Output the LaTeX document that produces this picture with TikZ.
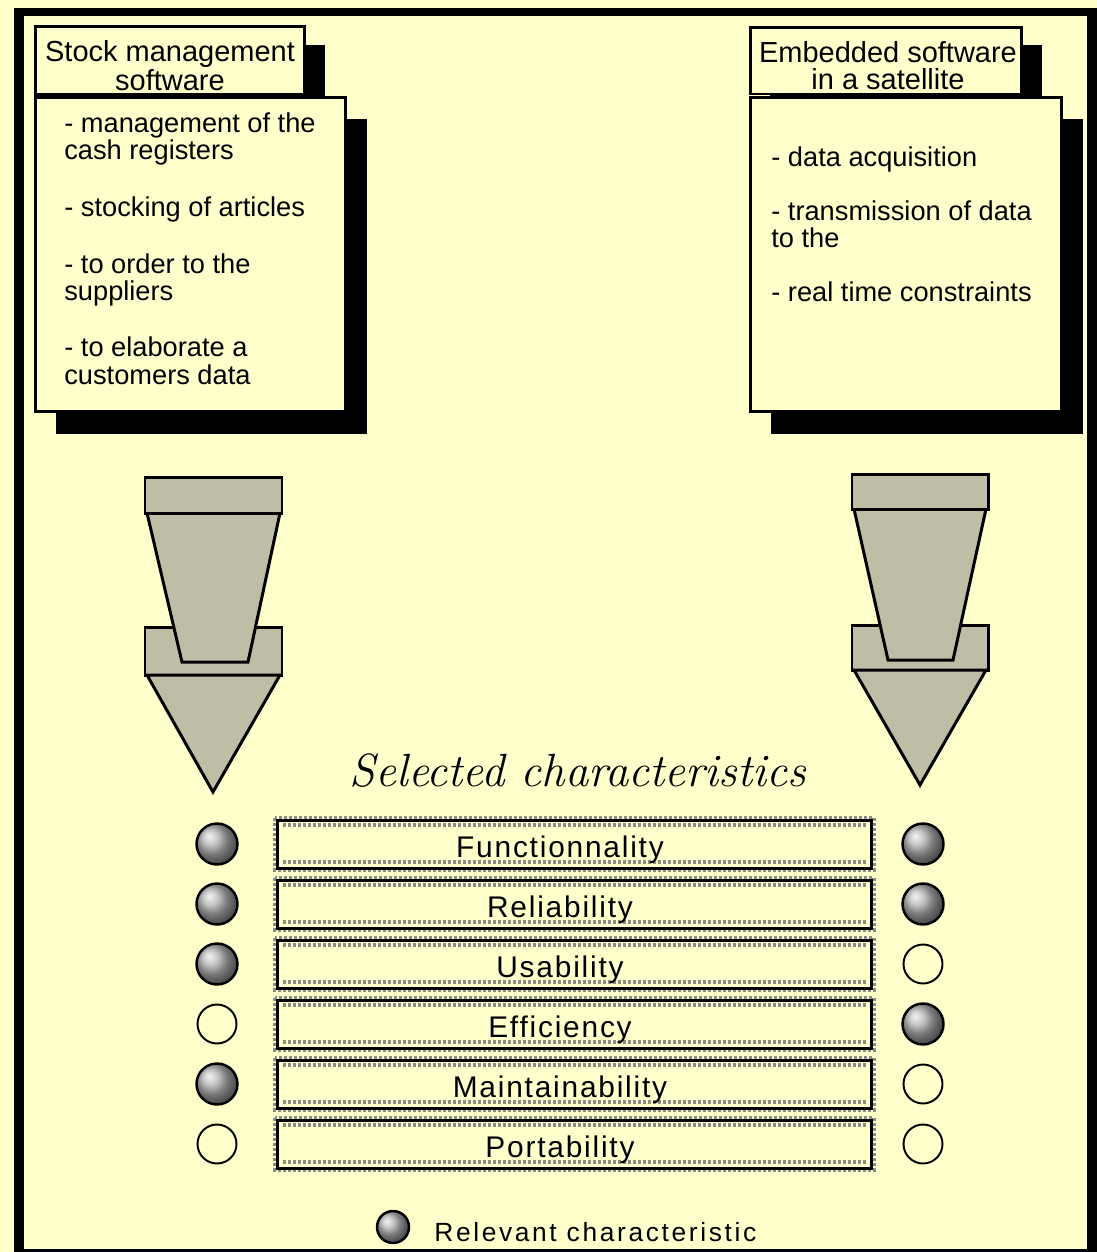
\documentclass[tikz,border=0pt]{standalone}
\usepackage{fontspec}
\newfontfamily\pixfont{Liberation Sans}
\newfontfamily\barfont[LetterSpace=6]{Liberation Sans}
\newfontfamily\keyfont[LetterSpace=10]{Liberation Sans}
\usetikzlibrary{shadows}
\definecolor{paper}{RGB}{255,255,204}
\definecolor{dither}{RGB}{190,190,166}
\definecolor{dotgray}{RGB}{140,140,135}
\tikzset{
  headbox/.style={draw, line width=1.7pt, fill=paper, minimum width=5.4cm, minimum height=1.36cm,
    drop shadow={shadow xshift=0.4cm, shadow yshift=-0.36cm, fill=black, opacity=1}},
  listbox/.style={draw, line width=1.7pt, fill=paper, minimum width=6.22cm, minimum height=6.3cm,
    drop shadow={shadow xshift=0.42cm, shadow yshift=-0.44cm, fill=black, opacity=1}},
  headtext/.style={align=center, inner sep=0pt, font=\pixfont\fontsize{16.5}{15.3}\selectfont},
  listtext/.style={align=left, anchor=north west, inner sep=0pt, font=\pixfont\fontsize{15.5}{15.4}\selectfont},
  block/.style={draw, line width=1.7pt, fill=dither, line join=miter},
  charbar/.style={draw, line width=1.7pt, minimum width=11.9cm, minimum height=0.96cm},
  bardots/.style={dotgray, line width=0.08cm, dash pattern=on 0.06cm off 0.04cm},
  barlabel/.style={inner sep=0pt, font=\barfont\fontsize{17}{17}\selectfont},
  relevant/.style={circle, draw, line width=1.4pt, shade, ball color=gray!60, minimum size=0.82cm},
  plain/.style={circle, draw, line width=1.1pt, minimum size=0.78cm}
}

\begin{document}
\begin{tikzpicture}[x=0.02cm, y=-0.02cm]
  \fill[paper] (0,0) rectangle (1097,1252);
  \fill[black] (14,8) rectangle (1097,1252);
  \fill[paper] (24,16) rectangle (1087,1249);
  \useasboundingbox (0,0) rectangle (1097,1252);

  \node[headbox] (stockhead) at (170,60.5) {};
  \node[headtext] (stockname) at (170,66) {Stock management\\software};
  \node[listbox] (stocklist) at (190.5,254.5) {};
  \node[listtext] (stockitems) at (64,112) {- management of the\\cash registers\\[17pt]
    - stocking of articles\\[17pt]
    - to order to the\\suppliers\\[17pt]
    - to elaborate a\\customers data};

  \node[headbox, minimum width=5.44cm, minimum height=1.34cm] (sathead) at (886,60.5) {};
  \node[headtext] (satname) at (888,66) {Embedded software\\in a satellite};
  \node[listbox, minimum width=6.24cm] (satlist) at (906,254.5) {};
  \node[listtext] (satitems) at (771,146) {- data acquisition\\[15.5pt]
    - transmission of data\\to the\\[15.5pt]
    - real time constraints};

  \draw[block] (145,627) rectangle (282,675);
  \draw[block] (147,513) -- (280,513) -- (248,662) -- (182,662) -- cycle;
  \draw[block] (147,675) -- (280,675) -- (213,792) -- cycle;
  \draw[block] (145,477) rectangle (282,513);

  \draw[block] (852,625) rectangle (988,670);
  \draw[block] (854,509) -- (986,509) -- (953,660) -- (888,660) -- cycle;
  \draw[block] (854,670) -- (986,670) -- (920,785) -- cycle;
  \draw[block] (852,474) rectangle (988,509);

  \node[anchor=base, inner sep=0pt, font=\itshape\fontsize{26.5}{26.5}\selectfont] (seltitle) at (578,786) {Selected characteristics};

  \foreach \name/\lft/\rgt [count=\i] in {Functionnality/relevant/relevant, Reliability/relevant/relevant,
      Usability/relevant/plain, Efficiency/plain/relevant, Maintainability/relevant/plain, Portability/plain/plain} {
    \pgfmathsetmacro{\yy}{784+60*\i}
    \draw[bardots] (275,\yy-26) rectangle (874,\yy+26);
    \draw[bardots] (283,\yy-19) -- (867,\yy-19);
    \draw[bardots] (283,\yy+18) -- (867,\yy+18);
    \node[charbar] (bar\i) at (574.5,\yy) {};
    \node[barlabel] (label\i) at (560,\yy+6) {\name};
    \node[\lft] (left\i) at (217,\yy) {};
    \node[\rgt] (right\i) at (923,\yy) {};
  }

  \node[relevant, minimum size=0.64cm] (keyball) at (393,1227) {};
  \node[anchor=west, inner sep=0pt, font=\keyfont\fontsize{15}{15}\selectfont] (keytext) at (434,1232) {Relevant characteristic};
\end{tikzpicture}
\end{document}
